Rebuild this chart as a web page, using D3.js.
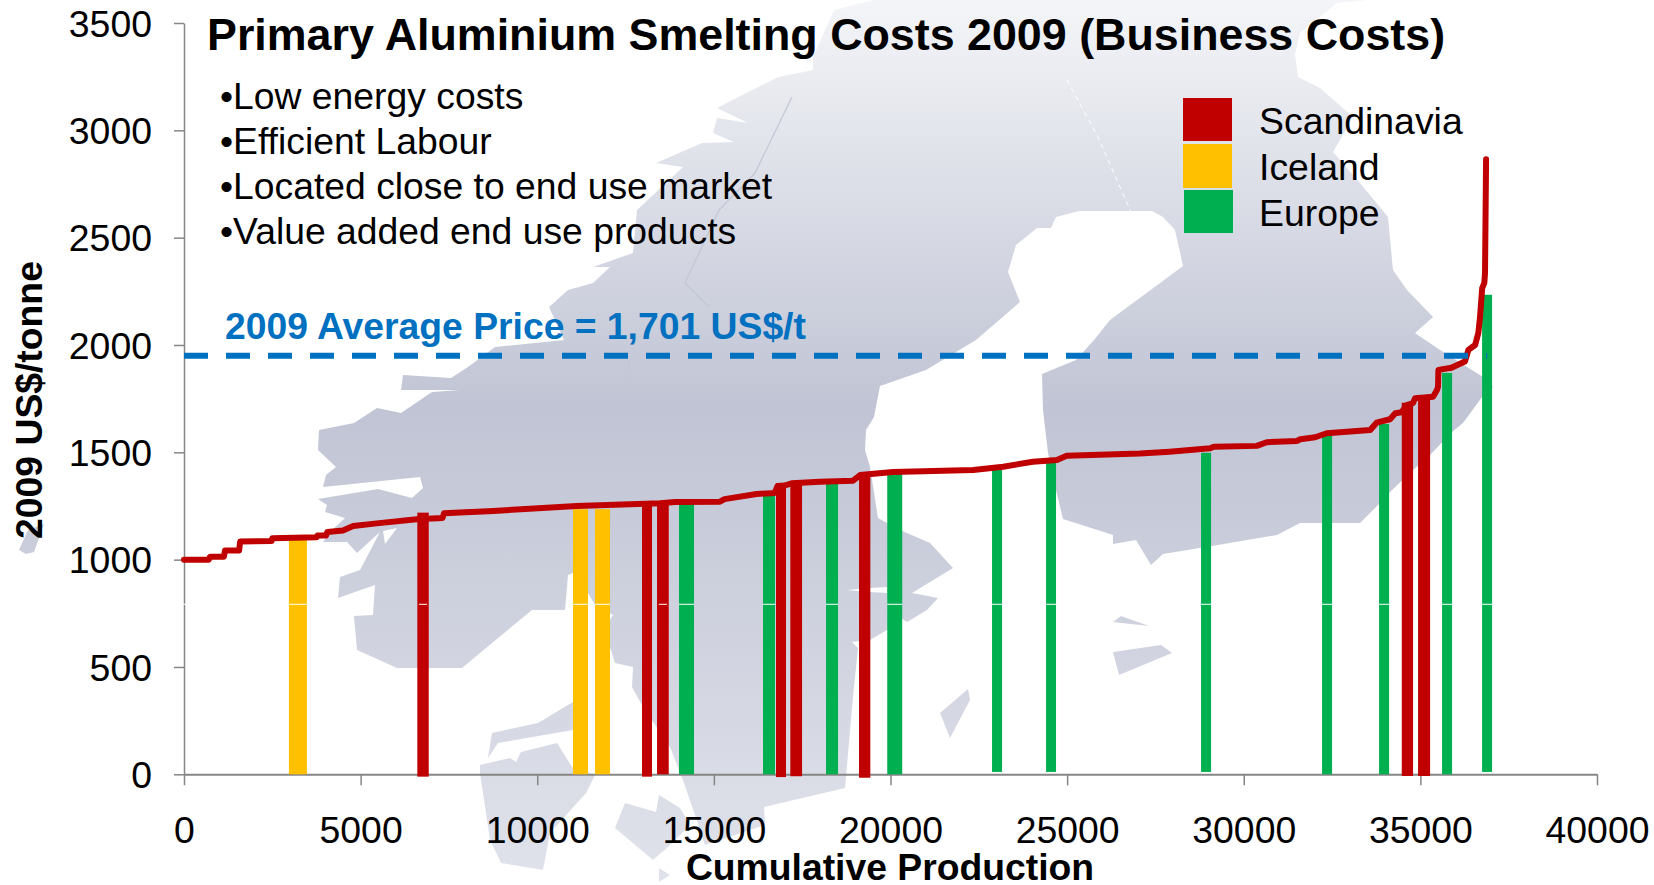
<!DOCTYPE html>
<html>
<head>
<meta charset="utf-8">
<script src="https://cdn.jsdelivr.net/npm/d3@7"></script>
<style>
  body { margin: 0; background: #fff; }
  svg { display: block; font-family: "Liberation Sans", Arial, sans-serif; }
  .axis path, .axis line { stroke: #868686; }
  .axis text { fill: #000; font-size: 37.4px; }
</style>
</head>
<body>
<script>
// cost curve: cumulative production, US$/t
const curveProd = [0, 700, 740, 1130, 1160, 1560, 1590, 2480, 2500, 3750, 3780, 4020, 4060, 4500, 4790, 5455, 6590, 7320, 7360, 8750, 11120, 13480, 13900, 15170, 15300, 16210, 16720, 16800, 17000, 17200, 18000, 18940, 19140, 20070, 22340, 23190, 24030, 24710, 24990, 27060, 27900, 29050, 29150, 30370, 30650, 31500, 31600, 32020, 32350, 33580, 33760, 34140, 34290, 34470, 34610, 34790, 34850, 35360, 35470, 35500, 35510, 35880, 36260, 36360, 36550, 36640, 36690, 36750, 36810, 36830, 36860];
const curveCost = [1000, 1000, 1014, 1014, 1043, 1043, 1084, 1087, 1100, 1104, 1112, 1112, 1129, 1136, 1157, 1169, 1188, 1194, 1216, 1227, 1250, 1263, 1268, 1270, 1282, 1306, 1310, 1343, 1345, 1356, 1363, 1368, 1394, 1408, 1418, 1433, 1456, 1464, 1484, 1494, 1503, 1519, 1526, 1530, 1547, 1553, 1561, 1570, 1589, 1604, 1638, 1654, 1682, 1687, 1720, 1729, 1752, 1759, 1790, 1806, 1884, 1894, 1923, 1977, 2000, 2056, 2132, 2265, 2289, 2335, 2865];

// smelters
const barRegion = ["Iceland", "Scandinavia", "Iceland", "Iceland", "Scandinavia", "Scandinavia", "Europe", "Europe", "Scandinavia", "Scandinavia", "Europe", "Scandinavia", "Europe", "Europe", "Europe", "Europe", "Europe", "Europe", "Scandinavia", "Scandinavia", "Europe", "Europe"];
const barStart = [2970, 6605, 11012, 11635, 12966, 13391, 14013, 16391, 16759, 17164, 18175, 19109, 19908, 22874, 24403, 28791, 32217, 33830, 34473, 34935, 35614, 36747];
const barEnd = [3480, 6928, 11437, 12060, 13249, 13722, 14438, 16731, 17042, 17496, 18515, 19429, 20332, 23158, 24686, 29075, 32500, 34115, 34793, 35275, 35897, 37030];
const barTop = [1096, 1219, 1235, 1235, 1264, 1255, 1270, 1298, 1356, 1363, 1363, 1405, 1403, 1419, 1455, 1498, 1578, 1632, 1731, 1767, 1870, 2234];
const barBase = [0, -11, 0, 0, -11, 0, 0, 0, -13, -9, 0, -16, 0, 11, 11, 11, 0, 0, -8, -8, 0, 11];
const barSeam = [1, 0.7, 1, 1, 0, 0.7, 1, 1, 0, 0, 1, 0, 1, 1, 1, 1, 1, 1, 0, 0, 1, 1];

const regions = ["Scandinavia", "Iceland", "Europe"];
const regionColors = ["#C00000", "#FFC000", "#00B050"];
const bullets = ["Low energy costs", "Efficient Labour", "Located close to end use market", "Value added end use products"];
const xTicks = [0, 5000, 10000, 15000, 20000, 25000, 30000, 35000, 40000];
const yTicks = [0, 500, 1000, 1500, 2000, 2500, 3000, 3500];
const priceLevel = 1950;
const priceEndProd = 36890;
const seamLevel = 792;

// backdrop map of northern Europe, traced outlines in page pixels
const mapLand = [[874,0],[1367,0],[1337,3],[1300,33],[1295,55],[1298,77],[1320,88],[1353,117],[1333,152],[1360,183],[1388,217],[1392,260],[1393,270],[1407,290],[1433,317],[1415,333],[1440,350],[1483,377],[1493,387],[1482,397],[1463,423],[1452,432],[1430,455],[1413,470],[1390,492],[1380,503],[1360,523],[1300,523],[1277,535],[1212,546],[1163,554],[1151,565],[1136,540],[1113,544],[1113,535],[1063,519],[1056,490],[1048,453],[1043,410],[1042,374],[1076,360],[1094,340],[1110,320],[1183,266],[1175,230],[1163,217],[1152,211],[1079,211],[1056,217],[1051,228],[1037,228],[1016,245],[1008,272],[1020,302],[976,340],[926,370],[880,386],[874,417],[866,430],[865,450],[870,467],[878,518],[900,530],[930,543],[953,568],[912,593],[938,598],[927,610],[907,622],[901,618],[887,630],[870,640],[852,642],[858,648],[853,697],[845,788],[764,807],[765,825],[705,845],[696,818],[684,783],[670,747],[643,707],[632,687],[633,667],[615,663],[610,647],[610,620],[613,615],[595,605],[588,593],[573,573],[568,575],[565,610],[532,610],[480,653],[462,668],[397,668],[357,650],[354,616],[373,615],[375,585],[338,598],[340,577],[360,570],[380,532],[357,553],[347,542],[323,542],[330,532],[345,518],[325,512],[327,505],[318,499],[378,489],[412,498],[423,488],[420,477],[323,487],[326,475],[336,467],[318,450],[319,430],[354,423],[377,408],[401,413],[432,392],[459,390],[401,390],[403,375],[451,378],[468,367],[495,347],[564,340],[549,307],[568,290],[593,283],[610,267],[593,267],[633,253],[637,210],[683,167],[656,163],[702,143],[734,142],[713,133],[717,118],[748,123],[717,108],[778,77],[813,70],[813,57],[834,10]];
const mapHoles = [
  [[397,528],[383,531],[385,544]],
  [[847,590],[870,588],[887,587],[887,593],[870,592]]
];
const mapIslands = [
  [[44,524],[34,552],[26,554],[19,550],[28,530]],
  [[492,733],[538,723],[573,702],[578,712],[573,730],[498,743],[488,758]],
  [[480,765],[510,758],[516,762],[521,752],[557,743],[572,767],[595,775],[586,793],[550,833],[543,870],[501,863],[490,840],[480,773]],
  [[625,803],[656,812],[659,795],[680,808],[690,825],[668,847],[653,860],[615,828]],
  [[659,868],[670,875],[659,882]],
  [[968,689],[970,700],[950,738],[940,713]],
  [[1113,622],[1121,616],[1149,626]],
  [[1113,652],[1161,645],[1172,653],[1119,675]]
];
const mapBorderDark = [[792,97],[755,173],[719,210],[685,283],[709,307]];
const mapBorderDark2 = [[629,360],[631,384]];
const mapBorderLight = [[1067,80],[1098,137],[1131,212]];

const width = 1654, height = 885;
const x = d3.scaleLinear().domain([0, 40000]).range([184, 1597]);
const y = d3.scaleLinear().domain([0, 3500]).range([774.3, 23]);
const color = d3.scaleOrdinal().domain(regions).range(regionColors);

const svg = d3.select("body").append("svg")
  .attr("width", width)
  .attr("height", height)
  .style("background-color", "#fff");

const grad = svg.append("defs").append("linearGradient")
  .attr("id", "mapFill")
  .attr("gradientUnits", "userSpaceOnUse")
  .attr("x1", 0).attr("y1", 0).attr("x2", 0).attr("y2", height);
grad.selectAll("stop")
  .data([[0, "#f4f5f8"], [0.46, "#c0c4d4"], [1, "#e1e3eb"]])
  .join("stop")
  .attr("offset", d => d[0])
  .attr("stop-color", d => d[1]);

// map
const outline = d3.line().curve(d3.curveLinearClosed);
const stroke = d3.line();
const map = svg.append("g");
map.append("path")
  .attr("d", [mapLand, ...mapHoles].map(outline).join(""))
  .attr("fill", "url(#mapFill)")
  .attr("fill-rule", "evenodd");
map.selectAll(".island")
  .data(mapIslands)
  .join("path")
  .attr("class", "island")
  .attr("d", outline)
  .attr("fill", "url(#mapFill)");
map.selectAll(".border")
  .data([mapBorderDark, mapBorderDark2])
  .join("path")
  .attr("class", "border")
  .attr("d", stroke)
  .attr("fill", "none")
  .attr("stroke", "#c4c7d5")
  .attr("stroke-width", 1.3);
map.append("path")
  .attr("d", stroke(mapBorderLight))
  .attr("fill", "none")
  .attr("stroke", "#fff")
  .attr("stroke-width", 1)
  .attr("stroke-dasharray", "5 4");

// axes
const xAxis = d3.axisBottom(x).tickValues(xTicks).tickFormat(d3.format("d")).tickSize(11).tickSizeOuter(0).tickPadding(31);
const yAxis = d3.axisLeft(y).tickValues(yTicks).tickFormat(d3.format("d")).tickSize(10).tickSizeOuter(0).tickPadding(22);

const gy = svg.append("g").attr("class", "axis").attr("transform", "translate(184,0)").call(yAxis);
gy.selectAll("line, path").attr("stroke-width", 1.5);
gy.selectAll("text").attr("dy", "0.35em");
const gx = svg.append("g").attr("class", "axis").attr("transform", "translate(0,774.3)").call(xAxis);
gx.selectAll("path").attr("stroke-width", 2);
gx.selectAll("line").attr("stroke-width", 1.5);

// smelter bars
const bars = d3.range(barStart.length);
svg.append("g").selectAll("rect")
  .data(bars)
  .join("rect")
  .attr("x", i => x(barStart[i]))
  .attr("width", i => x(barEnd[i]) - x(barStart[i]))
  .attr("y", i => y(barTop[i]))
  .attr("height", i => y(barBase[i]) - y(barTop[i]))
  .attr("fill", i => color(barRegion[i]));

svg.append("g").selectAll("line")
  .data(bars.filter(i => barSeam[i] > 0))
  .join("line")
  .attr("x1", i => (x(barStart[i]) + x(barEnd[i])) / 2 - (x(barEnd[i]) - x(barStart[i])) * barSeam[i] / 2)
  .attr("x2", i => (x(barStart[i]) + x(barEnd[i])) / 2 + (x(barEnd[i]) - x(barStart[i])) * barSeam[i] / 2)
  .attr("y1", y(seamLevel))
  .attr("y2", y(seamLevel))
  .attr("stroke", "#fff")
  .attr("stroke-width", 1);

// same seam cuts the value axis
svg.append("line")
  .attr("x1", x(0) - 2).attr("x2", x(0) + 2)
  .attr("y1", y(seamLevel)).attr("y2", y(seamLevel))
  .attr("stroke", "#fff")
  .attr("stroke-width", 1);

// cost curve
const costLine = d3.line().x(i => x(curveProd[i])).y(i => y(curveCost[i]));
svg.append("path")
  .attr("d", costLine(d3.range(curveProd.length)))
  .attr("fill", "none")
  .attr("stroke", "#C00000")
  .attr("stroke-width", 6)
  .attr("stroke-linecap", "round")
  .attr("stroke-linejoin", "round");

// price line
svg.append("line")
  .attr("x1", x(0)).attr("x2", x(priceEndProd))
  .attr("y1", y(priceLevel)).attr("y2", y(priceLevel))
  .attr("stroke", "#0070C0")
  .attr("stroke-width", 6)
  .attr("stroke-dasharray", "24 18");

// text
svg.append("text")
  .attr("x", 207).attr("y", 50)
  .attr("font-size", 44.8).attr("font-weight", "bold")
  .text("Primary Aluminium Smelting Costs 2009 (Business Costs)");

svg.append("g").selectAll("text")
  .data(bullets)
  .join("text")
  .attr("x", 220)
  .attr("y", (d, i) => 109 + i * 45)
  .attr("font-size", 37.3)
  .text(d => "\u2022" + d);

svg.append("text")
  .attr("x", 225).attr("y", 339)
  .attr("font-size", 37.3).attr("font-weight", "bold")
  .attr("fill", "#0070C0")
  .text("2009 Average Price = 1,701 US$/t");

svg.append("text")
  .attr("text-anchor", "middle")
  .attr("transform", "translate(42,400) rotate(-90)")
  .attr("font-size", 37.3).attr("font-weight", "bold")
  .text("2009 US$/tonne");

svg.append("text")
  .attr("x", 890).attr("y", 880)
  .attr("text-anchor", "middle")
  .attr("font-size", 37.3).attr("font-weight", "bold")
  .text("Cumulative Production");

// legend
const legend = svg.append("g").selectAll("g")
  .data(regions)
  .join("g")
  .attr("transform", (d, i) => `translate(${i == 2 ? 1184 : 1183},${[98, 144, 190][i]})`);
legend.append("rect")
  .attr("width", 49)
  .attr("height", (d, i) => [43, 44, 43][i])
  .attr("fill", d => color(d));
legend.append("text")
  .attr("x", (d, i) => i == 2 ? 75 : 76)
  .attr("y", 36)
  .attr("font-size", 37.4)
  .text(d => d);
</script>
</body>
</html>
